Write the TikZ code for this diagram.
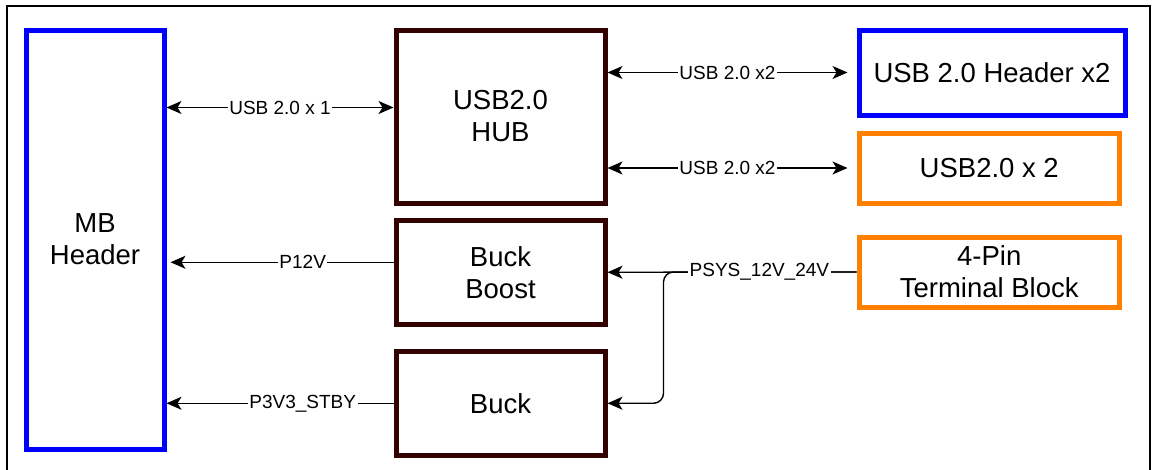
\documentclass[tikz,border=0pt]{standalone}
\usepackage{fontspec}
\setmainfont{Liberation Sans}
\usetikzlibrary{arrows.meta,positioning}
\definecolor{hdrblue}{HTML}{0000FF}
\definecolor{conorange}{HTML}{FF8000}
\definecolor{pwrbrown}{HTML}{330000}

\begin{document}
\begin{tikzpicture}[
  x=1pt, y=-1pt,
  blk/.style={rectangle, draw=pwrbrown, line width=5pt, minimum width=209pt, align=center, font=\fontsize{27.5}{32}\selectfont},
  conn/.style={rectangle, draw=#1, line width=5pt, align=center, font=\fontsize{27.5}{32}\selectfont},
  lbl/.style={fill=white, inner sep=1.5pt, font=\fontsize{19}{22}\selectfont},
  arr/.style={-{Stealth[length=15pt, width=13pt, inset=4pt]}, line width=1.4pt},
  darr/.style={{Stealth[length=15pt, width=13pt, inset=4pt]}-{Stealth[length=15pt, width=13pt, inset=4pt]}, line width=1.4pt}
]
\useasboundingbox (0,0) rectangle (1156,469);
\clip (0,0) rectangle (1156,469);
\draw[line width=2pt] (7,6) rectangle (1150,480);

\node[conn=hdrblue, minimum width=138pt, minimum height=419pt] (mb) at (95,239.5) {MB\\Header};
\node[blk, minimum height=173pt, right=227pt of mb.north east, anchor=north west] (hub) {USB2.0\\HUB};
\node[blk, minimum height=103.5pt, below=12.5pt of hub] (bb) {Buck\\Boost};
\node[blk, minimum height=103.5pt, below=22.5pt of bb] (buck) {Buck};
\node[conn=hdrblue, minimum width=266pt, minimum height=85pt, right=249pt of hub.north east, anchor=north west] (hdr) {USB 2.0 Header x2};
\node[conn=conorange, minimum width=260.5pt, minimum height=70pt, below=13pt of hdr.south west, anchor=north west] (usb) {USB2.0 x 2};
\node[conn=conorange, minimum width=260.5pt, minimum height=70pt, below=29pt of usb] (term) {4-Pin\\Terminal Block};

\coordinate (usbin) at ([yshift=9pt]hub.west);
\coordinate (p12) at ([yshift=10pt]bb.west);

\draw[darr] (usbin) -- node[lbl]{USB 2.0 x 1} (usbin -| mb.east);
\draw[darr] (hub.east |- hdr.west) -- node[lbl]{USB 2.0 x2} ([xshift=-9pt]hdr.west);
\draw[darr] (hub.east |- usb.west) -- node[lbl]{USB 2.0 x2} ([xshift=-9pt]usb.west);
\draw[arr, shorten >=4pt] (p12) -- node[lbl, pos=0.4]{P12V} (p12 -| mb.east);
\draw[arr] (buck.west) -- node[lbl, pos=0.4]{P3V3\_STBY} (buck.west -| mb.east);
\draw[arr, rounded corners=10pt] (term.west) -| ([xshift=56pt]buck.east) -- (buck.east);
\draw[arr] (term.west) -- node[lbl, pos=0.39]{PSYS\_12V\_24V} (bb.east);
\end{tikzpicture}
\end{document}
